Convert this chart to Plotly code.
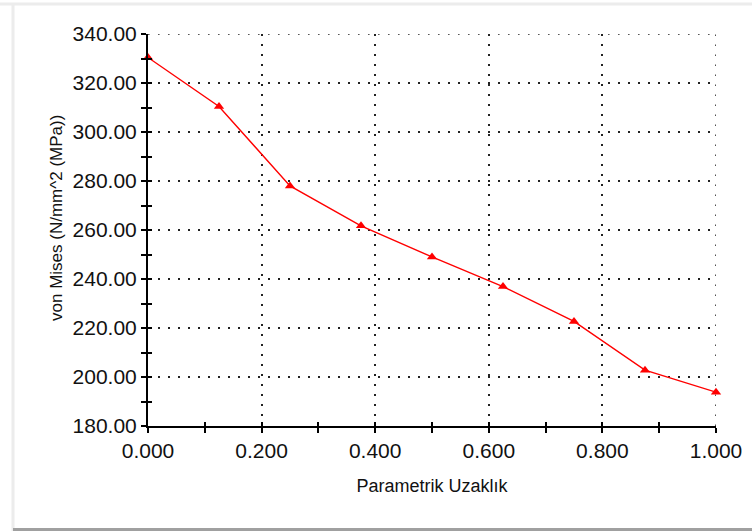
import plotly.graph_objects as go

# Data
param_dist = [0.0, 0.125, 0.25, 0.375, 0.5, 0.625, 0.75, 0.875, 1.0]
von_mises = [330.4, 310.4, 278.0, 261.7, 249.0, 236.9, 222.7, 202.8, 193.8]

x_range = [0.0, 1.0]
y_range = [180.0, 340.0]
x_title = "Parametrik Uzaklık"
y_title = "von Mises (N/mm^2 (MPa))"

FONT = "Arial, Liberation Sans, sans-serif"
W, H = 752, 531
ML, MR, MT, MB = 148, 36, 34, 105

GRID_COLOR = "#222222"
GRID_WIDTH = 1.6
GRID_DASH = "1.6px,8.4px"

fig = go.Figure()
fig.add_trace(go.Scatter(
    x=param_dist, y=von_mises, mode="lines+markers",
    line=dict(color="#ff0000", width=1.4),
    marker=dict(symbol="triangle-up", size=9, color="#ff0000"),
    showlegend=False, hoverinfo="x+y", cliponaxis=False,
))
# invisible trace on overlay axes (for inward half of crossing ticks)
fig.add_trace(go.Scatter(x=[None], y=[None], xaxis="x2", yaxis="y2",
                         showlegend=False, hoverinfo="skip"))

grid = dict(showgrid=True, gridcolor=GRID_COLOR, gridwidth=GRID_WIDTH, griddash=GRID_DASH)


def px_x(p):
    return (p - ML) / (W - ML - MR)


def px_y(p):
    return (H - MB - p) / (H - MT - MB)


fig.update_layout(
    width=W, height=H,
    margin=dict(l=ML, r=MR, t=MT, b=MB, pad=0, autoexpand=False),
    paper_bgcolor="white", plot_bgcolor="white",
    font=dict(family=FONT, color="#111111"),
    xaxis=dict(
        range=x_range, dtick=0.2, tick0=0, tickformat=".3f",
        ticks="outside", ticklen=5, tickwidth=1.5, tickcolor="black",
        minor=dict(dtick=0.1, ticks="outside", ticklen=5, tickwidth=1.5, tickcolor="black", showgrid=False),
        showline=True, linecolor="black", linewidth=2,
        zeroline=False, tickfont=dict(size=21, color="#111111"),
        title=dict(text=x_title, font=dict(size=18, color="#111111"), standoff=18),
        **grid,
    ),
    yaxis=dict(
        range=y_range, dtick=20, tick0=180, tickformat=".2f",
        ticks="outside", ticklen=5, tickwidth=1.5, tickcolor="black",
        minor=dict(dtick=10, ticks="outside", ticklen=5, tickwidth=1.5, tickcolor="black", showgrid=False),
        showline=True, linecolor="black", linewidth=2,
        zeroline=False, tickfont=dict(size=21, color="#111111"),
        ticklabelstandoff=0,
        **grid,
    ),
    xaxis2=dict(
        overlaying="x", range=x_range, dtick=0.2, tick0=0,
        ticks="inside", ticklen=4, tickwidth=1.5, tickcolor="black",
        minor=dict(dtick=0.1, ticks="inside", ticklen=4, tickwidth=1.5, tickcolor="black"),
        showticklabels=False, showgrid=False, zeroline=False, showline=False,
        anchor="y2", side="bottom",
    ),
    yaxis2=dict(
        overlaying="y", range=y_range, dtick=20, tick0=180,
        ticks="inside", ticklen=4, tickwidth=1.5, tickcolor="black",
        minor=dict(dtick=10, ticks="inside", ticklen=4, tickwidth=1.5, tickcolor="black"),
        showticklabels=False, showgrid=False, zeroline=False, showline=False,
        anchor="x2", side="left",
    ),
)

# grid lines at the far edges of the range (plotly omits them)
fig.add_shape(type="line", xref="paper", yref="y", layer="below",
              x0=0, x1=1, y0=y_range[1], y1=y_range[1],
              line=dict(color=GRID_COLOR, width=GRID_WIDTH, dash=GRID_DASH))
fig.add_shape(type="line", xref="x", yref="paper", layer="below",
              x0=x_range[1], x1=x_range[1], y0=0, y1=1,
              line=dict(color=GRID_COLOR, width=GRID_WIDTH, dash=GRID_DASH))

# y-axis title placed as in the reference
fig.add_annotation(text=y_title, xref="paper", yref="paper",
                   x=px_x(56), y=px_y(218), xanchor="center", yanchor="middle",
                   textangle=-90, showarrow=False,
                   font=dict(size=17, color="#111111", family=FONT))

# window frame (light border top/left, darker bottom bar)
fig.add_shape(type="line", xref="paper", yref="paper", layer="below",
              x0=px_x(0), x1=px_x(W), y0=px_y(4), y1=px_y(4),
              line=dict(color="#ececec", width=3))
fig.add_shape(type="line", xref="paper", yref="paper", layer="below",
              x0=px_x(13), x1=px_x(13), y0=px_y(4), y1=px_y(H),
              line=dict(color="#ececec", width=3))
fig.add_shape(type="line", xref="paper", yref="paper", layer="below",
              x0=px_x(13), x1=px_x(W), y0=px_y(529.5), y1=px_y(529.5),
              line=dict(color="#a0a0a0", width=3))

fig.write_html("out.html",
               config={"displayModeBar": False},
               post_script="document.body.style.margin='0';document.body.style.overflow='hidden';")
